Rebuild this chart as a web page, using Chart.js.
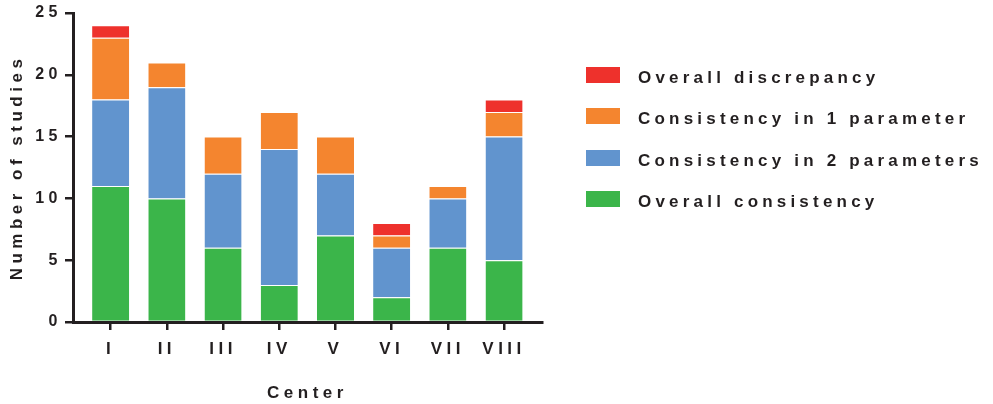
<!DOCTYPE html>
<html>
<head>
<meta charset="utf-8">
<script src="https://cdn.jsdelivr.net/npm/chart.js@4"></script>
<style>
  body { margin: 0; background: #fff; }
  #wrap { position: relative; width: 993px; height: 404px; }
  #legend { position: absolute; left: 586px; top: 67px; font-family: 'Liberation Sans', Arial, sans-serif;
            font-weight: bold; font-size: 17px; letter-spacing: 4.2px; color: #231f20; }
  .item { position: absolute; left: 0; height: 17px; white-space: nowrap; }
  .box { position: absolute; left: 0; top: 0; width: 34px; height: 16px; }
  .txt { position: absolute; left: 52px; top: 2px; line-height: 17px; }
</style>
</head>
<body>
<div id="wrap">
  <canvas id="myChart" width="993" height="404"></canvas>
  <div id="legend"></div>
</div>
<script>
var categories = ['I', 'II', 'III', 'IV', 'V', 'VI', 'VII', 'VIII'];
var overallConsistency = [11, 10, 6, 3, 7, 2, 6, 5];
var consistencyIn2 = [7, 9, 6, 11, 5, 4, 4, 10];
var consistencyIn1 = [5, 2, 3, 3, 3, 1, 1, 2];
var overallDiscrepancy = [1, 0, 0, 0, 0, 1, 0, 1];
var yTicks = [0, 5, 10, 15, 20, 25];

var ink = '#231f20';
var fontFamily = "'Liberation Sans', Arial, sans-serif";

function points(values) {
  return values.map(function (v, i) { return { x: i, y: v }; });
}

function series(label, values, color) {
  return {
    label: label,
    data: points(values),
    backgroundColor: color,
    borderColor: '#ffffff',
    borderWidth: { top: 1, left: 0, right: 0, bottom: 0 },
    borderSkipped: false,
    categoryPercentage: 1,
    barPercentage: 0.66
  };
}

var datasets = [
  series('Overall consistency', overallConsistency, '#3bb54a'),
  series('Consistency in 2 parameters', consistencyIn2, '#6194ce'),
  series('Consistency in 1 parameter', consistencyIn1, '#f4852f'),
  series('Overall discrepancy', overallDiscrepancy, '#ee312c')
];

// wide letter spacing like the original figure
var spacing = {
  id: 'spacing',
  beforeLayout: function (chart) { chart.ctx.letterSpacing = '4.5px'; },
  beforeDraw: function (chart) { chart.ctx.letterSpacing = '4.5px'; }
};

var ctx = document.getElementById('myChart').getContext('2d');
var myChart = new Chart(ctx, {
  type: 'bar',
  data: { datasets: datasets },
  plugins: [spacing],
  options: {
    responsive: false,
    animation: false,
    layout: { padding: { top: 13, right: 451, bottom: 0, left: 0 } },
    plugins: { legend: { display: false }, tooltip: { enabled: false } },
    scales: {
      x: {
        type: 'linear',
        stacked: true,
        offset: false,
        min: -0.67,
        max: 7.675,
        afterBuildTicks: function (scale) {
          scale.ticks = categories.map(function (c, i) { return { value: i }; });
        },
        afterFit: function (scale) { scale.height = 82; },
        ticks: {
          autoSkip: false,
          maxRotation: 0,
          padding: 9,
          color: ink,
          font: { family: fontFamily, size: 17, weight: 'bold' },
          callback: function (v) { return categories[v]; }
        },
        grid: { display: true, drawOnChartArea: false, offset: false, tickLength: 8, lineWidth: 2.5, color: ink },
        border: { display: true, width: 3, color: ink },
        title: {
          display: true,
          text: 'Center',
          color: ink,
          font: { family: fontFamily, size: 17, weight: 'bold' },
          padding: { top: 0, bottom: 0 }
        }
      },
      y: {
        stacked: true,
        min: yTicks[0],
        max: yTicks[yTicks.length - 1],
        afterBuildTicks: function (scale) {
          scale.ticks = yTicks.map(function (v) { return { value: v }; });
        },
        afterFit: function (scale) { scale.width = 73; },
        ticks: {
          padding: 3,
          color: ink,
          font: { family: fontFamily, size: 16, weight: 'bold' }
        },
        grid: { display: true, drawOnChartArea: false, tickLength: 8, lineWidth: 2.5, color: ink },
        border: { display: true, width: 3, color: ink },
        title: {
          display: true,
          text: 'Number of studies',
          color: ink,
          font: { family: fontFamily, size: 17, weight: 'bold' },
          padding: { top: 7, bottom: 0 }
        }
      }
    }
  }
});

// legend, top to bottom in reverse stack order
var legend = document.getElementById('legend');
datasets.slice().reverse().forEach(function (ds, i) {
  var item = document.createElement('div');
  item.className = 'item';
  item.style.top = (i * 41.4) + 'px';
  var box = document.createElement('span');
  box.className = 'box';
  box.style.background = ds.backgroundColor;
  var txt = document.createElement('span');
  txt.className = 'txt';
  txt.textContent = ds.label;
  item.appendChild(box);
  item.appendChild(txt);
  legend.appendChild(item);
});
</script>
</body>
</html>
